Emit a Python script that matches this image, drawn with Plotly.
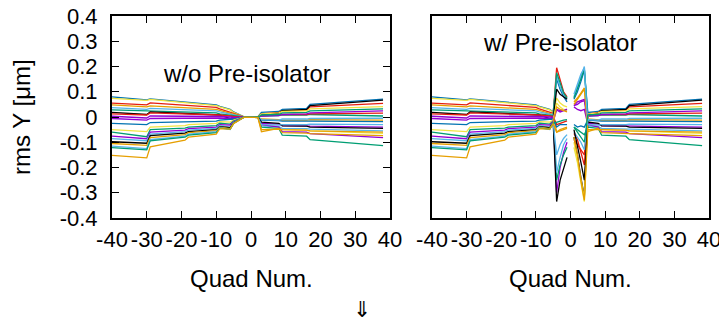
import plotly.graph_objects as go

# Quad positions (breakpoints of the orbit-response curves)
quad_x = [-40, -30, -29, -19, -18, -10, -9, -6, -5, -3, -2, 2, 3, 8, 9, 16, 17, 38]
# Centre quads for the "with pre-isolator" case
quad_x_pre_left = [-4, -3, -2, -1]
quad_x_pre_right = [1, 2, 3, 4]

# rms Y [um] per seed, without pre-isolator (values at quad_x)
run01 = [0.080, 0.068, 0.072, 0.058, 0.057, 0.048, 0.042, 0.030, 0.020, 0.008, 0.001, 0.001, 0.018, 0.022, 0.030, 0.034, 0.050, 0.071]
run02 = [0.074, 0.066, 0.070, 0.058, 0.056, 0.045, 0.040, 0.028, 0.018, 0.007, 0.001, -0.001, -0.030, -0.038, -0.050, -0.052, -0.055, -0.065]
run03 = [0.055, 0.048, 0.056, 0.048, 0.046, 0.038, 0.032, 0.020, 0.014, 0.006, 0.001, 0.001, 0.012, 0.018, 0.024, 0.027, 0.040, 0.054]
run04 = [0.048, 0.040, 0.044, 0.036, 0.034, 0.030, 0.026, 0.016, 0.010, 0.004, 0.000, -0.001, -0.008, -0.010, -0.012, -0.012, -0.010, -0.012]
run05 = [0.037, 0.030, 0.034, 0.030, 0.028, 0.024, 0.020, 0.012, 0.008, 0.003, 0.000, -0.001, -0.035, -0.038, -0.045, -0.046, -0.048, -0.055]
run06 = [0.028, 0.024, 0.026, 0.022, 0.020, 0.016, 0.012, 0.008, 0.005, 0.002, 0.000, 0.000, 0.004, 0.006, 0.008, 0.008, 0.010, 0.004]
run07 = [0.018, 0.010, 0.020, 0.015, 0.014, 0.010, 0.008, -0.006, -0.008, -0.003, 0.000, 0.001, 0.010, 0.015, 0.025, 0.030, 0.045, 0.067]
run08 = [0.012, 0.008, 0.016, 0.012, 0.012, 0.010, 0.008, 0.004, 0.002, 0.001, 0.000, 0.000, 0.006, 0.008, 0.010, 0.010, 0.012, 0.015]
run09 = [0.003, -0.004, 0.004, 0.004, 0.004, 0.004, 0.002, 0.000, -0.002, -0.001, 0.000, 0.000, 0.004, 0.006, 0.010, 0.012, 0.016, 0.024]
run10 = [-0.006, -0.012, -0.006, -0.004, -0.004, -0.004, -0.004, -0.006, -0.005, -0.002, 0.000, -0.001, -0.030, -0.040, -0.058, -0.060, -0.066, -0.082]
run11 = [-0.025, -0.030, -0.022, -0.020, -0.018, -0.016, -0.012, -0.010, -0.008, -0.003, 0.000, -0.001, -0.012, -0.014, -0.016, -0.016, -0.016, -0.018]
run12 = [-0.050, -0.058, -0.040, -0.034, -0.030, -0.025, -0.018, -0.020, -0.012, -0.004, -0.001, 0.001, 0.012, 0.016, 0.022, 0.024, 0.032, 0.041]
run13 = [-0.060, -0.078, -0.050, -0.044, -0.040, -0.034, -0.024, -0.028, -0.016, -0.005, -0.001, -0.002, -0.040, -0.045, -0.072, -0.076, -0.090, -0.113]
run14 = [-0.076, -0.086, -0.060, -0.052, -0.046, -0.040, -0.030, -0.032, -0.018, -0.006, -0.001, -0.001, -0.025, -0.028, -0.034, -0.035, -0.036, -0.040]
run15 = [-0.086, -0.094, -0.068, -0.058, -0.052, -0.045, -0.034, -0.040, -0.020, -0.007, -0.001, -0.001, -0.010, -0.012, -0.008, -0.008, -0.006, -0.005]
run16 = [-0.098, -0.104, -0.074, -0.064, -0.058, -0.050, -0.038, -0.042, -0.022, -0.008, -0.001, 0.000, -0.020, -0.025, -0.035, -0.036, -0.040, -0.045]
run17 = [-0.105, -0.112, -0.082, -0.070, -0.062, -0.054, -0.040, -0.046, -0.024, -0.008, -0.001, -0.002, -0.058, -0.045, -0.062, -0.064, -0.066, -0.074]
run18 = [-0.115, -0.125, -0.090, -0.076, -0.068, -0.058, -0.042, -0.050, -0.024, -0.009, -0.001, -0.001, -0.030, -0.032, -0.030, -0.030, -0.028, -0.030]
run19 = [-0.121, -0.130, -0.094, -0.080, -0.072, -0.062, -0.044, -0.048, -0.025, -0.009, -0.001, 0.000, 0.008, 0.010, 0.016, 0.018, 0.024, 0.032]
run20 = [-0.152, -0.162, -0.118, -0.092, -0.080, -0.068, -0.046, -0.048, -0.026, -0.010, -0.001, -0.002, -0.050, -0.048, -0.050, -0.052, -0.055, -0.060]

# Centre values with pre-isolator: quads -4..-1 then 1..4
pre01 = [0.150, 0.110, 0.080, 0.060, 0.070, 0.100, 0.140, 0.185]
pre02 = [0.075, 0.055, 0.045, 0.040, -0.120, -0.180, -0.260, -0.335]
pre03 = [0.195, 0.150, 0.100, 0.080, -0.065, -0.090, -0.140, -0.190]
pre04 = [-0.060, -0.050, -0.045, -0.040, 0.060, 0.075, 0.095, 0.115]
pre05 = [0.165, 0.120, 0.090, 0.070, 0.080, 0.120, 0.160, 0.200]
pre06 = [0.175, 0.130, 0.095, 0.075, 0.075, 0.110, 0.150, 0.190]
pre07 = [0.110, 0.090, 0.080, 0.070, -0.080, -0.150, -0.240, -0.315]
pre08 = [-0.030, -0.025, -0.020, -0.015, -0.090, -0.110, -0.130, -0.150]
pre09 = [0.030, 0.025, 0.028, 0.030, 0.045, 0.060, 0.065, 0.070]
pre10 = [-0.300, -0.200, -0.140, -0.100, 0.040, 0.030, 0.025, 0.030]
pre11 = [-0.040, -0.030, -0.030, -0.030, -0.030, -0.040, -0.035, -0.040]
pre12 = [0.055, 0.040, 0.030, 0.025, -0.100, -0.170, -0.240, -0.320]
pre13 = [-0.250, -0.190, -0.150, -0.120, -0.040, -0.050, -0.060, -0.070]
pre14 = [0.028, 0.020, 0.025, 0.030, 0.045, 0.050, 0.060, 0.065]
pre15 = [-0.220, -0.160, -0.110, -0.085, -0.060, -0.080, -0.100, -0.130]
pre16 = [-0.335, -0.250, -0.200, -0.160, -0.050, -0.110, -0.180, -0.250]
pre17 = [0.040, 0.030, 0.025, 0.020, 0.050, 0.070, 0.090, 0.110]
pre18 = [-0.150, -0.110, -0.085, -0.070, 0.090, 0.130, 0.170, 0.195]
pre19 = [-0.020, -0.015, -0.012, -0.010, -0.040, -0.060, -0.080, -0.100]
pre20 = [-0.060, -0.055, -0.050, -0.045, -0.080, -0.150, -0.250, -0.330]

y_tick_vals = [0.4, 0.3, 0.2, 0.1, 0, -0.1, -0.2, -0.3, -0.4]
y_tick_text = ["0.4", "0.3", "0.2", "0.1", "0", "-0.1", "-0.2", "-0.3", "-0.4"]
x_tick_vals = [-40, -30, -20, -10, 0, 10, 20, 30, 40]
x_tick_text = ["-40", "-30", "-20", "-10", "0", "10", "20", "30", "40"]

runs = [run01, run02, run03, run04, run05, run06, run07, run08, run09, run10,
        run11, run12, run13, run14, run15, run16, run17, run18, run19, run20]
pres = [pre01, pre02, pre03, pre04, pre05, pre06, pre07, pre08, pre09, pre10,
        pre11, pre12, pre13, pre14, pre15, pre16, pre17, pre18, pre19, pre20]

# styles
PURPLE, GREEN, SKY, ORANGE, YELLOW, BLUE, RED, BLACK = (
    "#9400d3", "#009e73", "#56b4e9", "#e69f00", "#f0e442", "#0072b2", "#e51e10", "#000000")
colors = [BLUE, YELLOW, RED, ORANGE, SKY, GREEN, BLACK, RED, PURPLE, PURPLE,
          BLUE, YELLOW, GREEN, PURPLE, SKY, BLACK, ORANGE, SKY, GREEN, ORANGE]
FONT = "Liberation Sans, Arial, sans-serif"

fig = go.Figure()
for r, p, c in zip(runs, pres, colors):
    fig.add_trace(go.Scatter(x=quad_x, y=r, mode="lines", line=dict(color=c, width=1.3),
                             xaxis="x", yaxis="y", showlegend=False, hoverinfo="skip"))
    xr = quad_x[:9] + quad_x_pre_left + [None] + quad_x_pre_right + [5] + quad_x[13:]
    yr = r[:9] + p[:4] + [None] + p[4:] + [r[12]] + r[13:]
    fig.add_trace(go.Scatter(x=xr, y=yr, mode="lines", line=dict(color=c, width=1.3),
                             xaxis="x2", yaxis="y2", showlegend=False, hoverinfo="skip"))

# page has an 8px body margin: the figure is drawn from (8, 8)
OFF = 8
PL, PR, PT, PB = 112, 709, 16, 218          # plot box in page pixels
W = PR - PL
H = PB - PT
d1 = (390 - PL) / W
d2 = (432 - PL) / W


def px(xp):
    return (xp - PL) / W


def py(yp):
    return (PB - yp) / H


xax = dict(range=[-40, 40], tickvals=x_tick_vals, ticktext=x_tick_text, ticks="inside",
           ticklen=7, tickwidth=1, tickcolor="black", showline=True, linecolor="black",
           linewidth=2, mirror="allticks", showgrid=False, zeroline=False, automargin=False,
           tickfont=dict(family=FONT, size=22, color="black"), ticklabelstandoff=1,
           ticklabeloverflow="allow")
yax = dict(range=[-0.4, 0.4], tickvals=y_tick_vals, ticktext=y_tick_text, ticks="inside",
           ticklen=7, tickwidth=1, tickcolor="black", showline=True, linecolor="black",
           linewidth=2, mirror="allticks", showgrid=False, zeroline=False, automargin=False,
           tickfont=dict(family=FONT, size=22, color="black"), ticklabelstandoff=8,
           ticklabeloverflow="allow")

fig.update_layout(
    width=727 - OFF, height=322 - OFF,
    margin=dict(l=PL - OFF, r=727 - PR, t=PT - OFF, b=322 - PB, autoexpand=False),
    paper_bgcolor="white", plot_bgcolor="white",
    xaxis=dict(xax, domain=[0, d1], anchor="y"),
    yaxis=dict(yax, domain=[0, 1], anchor="x"),
    xaxis2=dict(xax, domain=[d2, 1], anchor="y2"),
    yaxis2=dict(range=[-0.4, 0.4], domain=[0, 1], anchor="x2", showticklabels=False,
                ticks="", showline=True, linecolor="black", linewidth=2, mirror=True,
                showgrid=False, zeroline=False, automargin=False),
    font=dict(family=FONT, color="black"),
    annotations=[
        dict(text="w/o Pre-isolator", x=px(247), y=py(73), xref="paper", yref="paper",
             xanchor="center", yanchor="middle", showarrow=False, font=dict(size=24)),
        dict(text="w/ Pre-isolator", x=px(560), y=py(42), xref="paper", yref="paper",
             xanchor="center", yanchor="middle", showarrow=False, font=dict(size=24)),
        dict(text="rms Y [μm]", x=px(21), y=py(117), xref="paper", yref="paper",
             xanchor="center", yanchor="middle", textangle=-90, showarrow=False,
             font=dict(size=24)),
        dict(text="Quad Num.", x=px(251), y=py(278), xref="paper", yref="paper",
             xanchor="center", yanchor="middle", showarrow=False, font=dict(size=24)),
        dict(text="Quad Num.", x=px(570.5), y=py(278), xref="paper", yref="paper",
             xanchor="center", yanchor="middle", showarrow=False, font=dict(size=24)),
        dict(text="⇓", x=px(362), y=py(309), xref="paper", yref="paper",
             xanchor="center", yanchor="middle", showarrow=False,
             font=dict(size=22, family="DejaVu Sans")),
    ],
)

fig.write_html("out.html")
